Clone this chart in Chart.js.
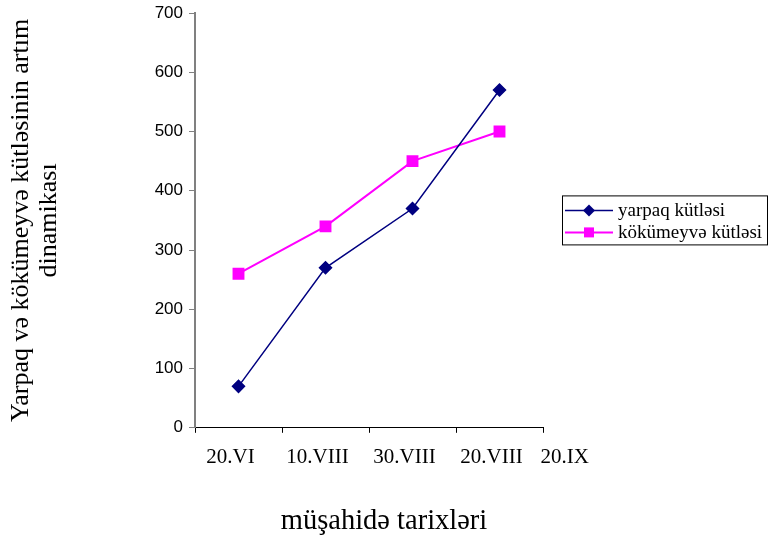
<!DOCTYPE html>
<html>
<head>
<meta charset="utf-8">
<script src="https://cdn.jsdelivr.net/npm/chart.js@4"></script>
<style>
    html, body { margin: 0; padding: 0; background: #fff; }
    #wrap { width: 768px; height: 542px; }
</style>
</head>
<body>
<div id="wrap"><canvas id="Graph"></canvas></div>
<script>
// data
const categories = ['20.VI', '10.VIII', '30.VIII', '20.VIII', '20.IX'];
const yarpaqValues = [70, 270, 370, 570];
const kokumeyveValues = [260, 340, 450, 500];
const yMin = 0;
const yMax = 700;
const yStep = 100;

const seriesNames = ['yarpaq kütləsi', 'kökümeyvə kütləsi'];
const yTitle = ['Yarpaq və kökümeyvə kütləsinin artım', 'dinamikası'];
const xTitle = 'müşahidə tarixləri';

const serif = "'Liberation Serif', 'Times New Roman', serif";
const sans = "'Liberation Sans', Arial, sans-serif";

// draws the category labels that fall past the last data category
const extraLabels = {
    id: 'extraLabels',
    afterDraw(chart) {
        const scale = chart.scales.x;
        const ctx = chart.ctx;
        const opts = scale.options;
        ctx.save();
        ctx.font = '21px ' + serif;
        ctx.fillStyle = '#000';
        ctx.textAlign = 'center';
        ctx.textBaseline = 'middle';
        for (let i = yarpaqValues.length; i < categories.length; i++) {
            const x = scale.getPixelForValue(i - 0.25);
            const y = scale.top + opts.grid.tickLength + opts.ticks.padding + 13;
            ctx.fillText(categories[i], x, y);
        }
        ctx.restore();
    }
};

// legend with a box round it, line + marker like the old office charts
const boxLegend = {
    id: 'boxLegend',
    afterDraw(chart) {
        const ctx = chart.ctx;
        const area = chart.chartArea;
        const left = area.right + 19;
        const top = area.top + (area.bottom - area.top) / 2 - 25;
        const w = 205, h = 49;
        ctx.save();
        ctx.fillStyle = '#fff';
        ctx.fillRect(left, top, w, h);
        ctx.strokeStyle = '#000';
        ctx.lineWidth = 1;
        ctx.strokeRect(left + 0.5, top + 0.5, w, h);

        chart.data.datasets.forEach((ds, i) => {
            const y = top + 15 + i * 22;
            ctx.strokeStyle = ds.borderColor;
            ctx.lineWidth = ds.borderWidth;
            ctx.beginPath();
            ctx.moveTo(left + 3, y);
            ctx.lineTo(left + 51, y);
            ctx.stroke();

            const cx = left + 27;
            ctx.fillStyle = ds.pointBackgroundColor;
            ctx.beginPath();
            if (ds.pointStyle === 'rectRot') {
                ctx.moveTo(cx, y - 6);
                ctx.lineTo(cx + 6, y);
                ctx.lineTo(cx, y + 6);
                ctx.lineTo(cx - 6, y);
                ctx.closePath();
            } else {
                ctx.rect(cx - 5, y - 5, 10, 10);
            }
            ctx.fill();

            ctx.fillStyle = '#000';
            ctx.font = '19px ' + serif;
            ctx.textAlign = 'left';
            ctx.textBaseline = 'middle';
            ctx.fillText(ds.label, left + 56, y + 1);
        });
        ctx.restore();
    }
};

const ctx = document.getElementById('Graph').getContext('2d');

const myChart = new Chart(ctx, {
    type: 'line',
    data: {
        labels: categories,
        datasets: [{
            label: seriesNames[0],
            data: yarpaqValues,
            borderColor: '#000080',
            backgroundColor: '#000080',
            pointBackgroundColor: '#000080',
            pointBorderColor: '#000080',
            pointStyle: 'rectRot',
            pointRadius: 6,
            borderWidth: 1.5,
            fill: false,
            tension: 0
        }, {
            label: seriesNames[1],
            data: kokumeyveValues,
            borderColor: '#ff00ff',
            backgroundColor: '#ff00ff',
            pointBackgroundColor: '#ff00ff',
            pointBorderColor: '#ff00ff',
            pointStyle: 'rect',
            pointRadius: 7,
            borderWidth: 2,
            fill: false,
            tension: 0
        }]
    },
    options: {
        responsive: true,
        maintainAspectRatio: false,
        animation: false,
        layout: {
            padding: { left: 0, top: 13, right: 0, bottom: 0 }
        },
        plugins: {
            legend: { display: false },
            tooltip: { enabled: false },
            title: {
                display: true,
                position: 'bottom',
                text: xTitle,
                color: '#000',
                font: { family: serif, size: 28.5, weight: 'normal', lineHeight: 1.2 },
                padding: { top: 0, bottom: 3 }
            }
        },
        scales: {
            x: {
                type: 'category',
                offset: true,
                min: categories[0],
                max: categories[yarpaqValues.length - 1],
                afterFit(scale) { scale.height = 77; },
                border: { display: true, color: '#000', width: 1 },
                grid: {
                    offset: true,
                    drawOnChartArea: false,
                    drawTicks: true,
                    tickLength: 5,
                    color: '#000'
                },
                ticks: {
                    color: '#000',
                    font: { family: serif, size: 21 },
                    padding: 12,
                    labelOffset: -8,
                    maxRotation: 0,
                    autoSkip: false
                }
            },
            y: {
                min: yMin,
                max: yMax,
                afterFit(scale) {
                    scale.width = 195;
                    scale.paddingTop = 0;
                    scale.paddingBottom = 0;
                },
                border: { display: true, color: '#808080', width: 2 },
                grid: {
                    drawOnChartArea: false,
                    drawTicks: true,
                    tickLength: 6,
                    color: '#808080'
                },
                ticks: {
                    stepSize: yStep,
                    color: '#000',
                    font: { family: sans, size: 17 },
                    padding: 6
                },
                title: {
                    display: true,
                    text: yTitle,
                    color: '#000',
                    font: { family: serif, size: 26, lineHeight: 1.05 },
                    padding: { top: 8, bottom: 0 }
                }
            },
            // empty axis that only keeps the space for the legend on the right
            yRight: {
                position: 'right',
                afterFit(scale) {
                    scale.width = 225;
                    scale.paddingTop = 0;
                    scale.paddingBottom = 0;
                },
                border: { display: false },
                grid: { display: false },
                ticks: { display: false }
            }
        }
    },
    plugins: [extraLabels, boxLegend]
});
</script>
</body>
</html>
